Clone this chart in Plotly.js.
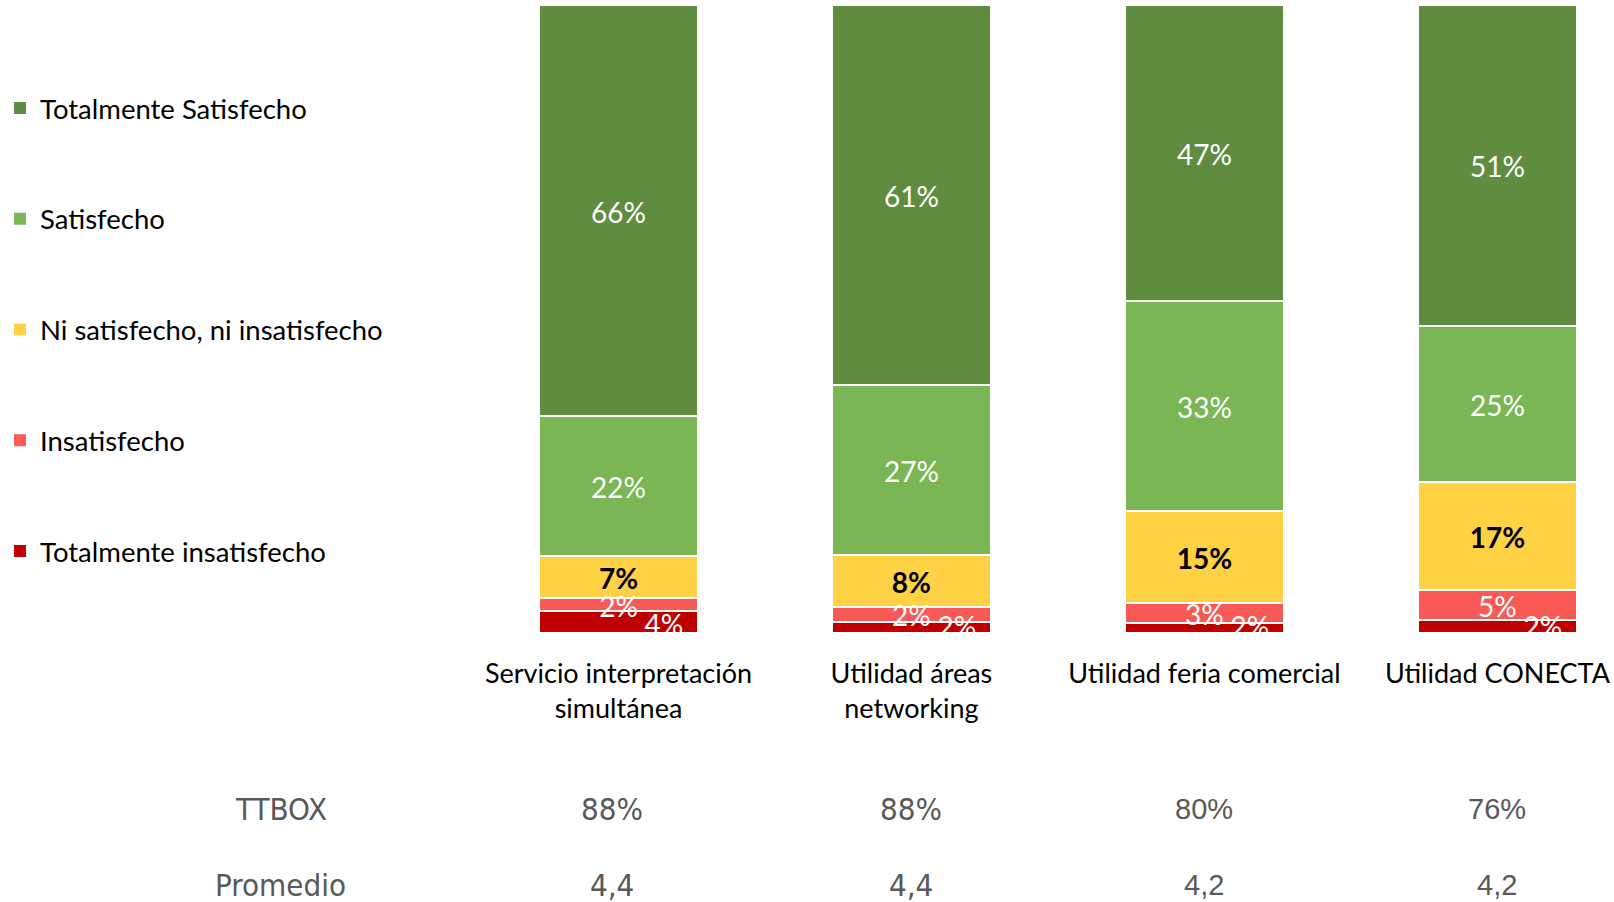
<!DOCTYPE html>
<html>
<head>
<meta charset="utf-8">
<script src="https://cdn.plot.ly/plotly-3.0.1.min.js"></script>
<style>html,body{margin:0;padding:0;background:#fff;}#chart{width:1614px;height:902px;}</style>
</head>
<body>
<div id="chart"></div>
<script>
// ---- data ----
var categories = ["Servicio interpretación<br>simultánea", "Utilidad áreas<br>networking", "Utilidad feria comercial", "Utilidad CONECTA"];
var seriesNames = ["Totalmente insatisfecho", "Insatisfecho", "Ni satisfecho, ni insatisfecho", "Satisfecho", "Totalmente Satisfecho"];
var totInsatisfecho = [3.5, 1.8, 1.6, 2.1];
var insatisfecho    = [2.0, 2.4, 3.1, 4.8];
var neutro          = [6.7, 8.2, 14.8, 17.2];
var satisfecho      = [22.3, 27.1, 33.3, 24.8];
var totSatisfecho   = [65.5, 60.5, 47.2, 51.1];
var ttboxValues = ["88%", "88%", "80%", "76%"];
var promedioValues = ["4,4", "4,4", "4,2", "4,2"];

// ---- style ----
var colors = ["#C00000", "#FA5A55", "#FFD145", "#7AB653", "#5F8C3F"];
var labelColors = ["#ffffff", "#ffffff", "#000000", "#ffffff", "#ffffff"];
var labelBold = [false, false, true, false, false];
var labelXOffset = [0.155, 0, 0, 0, 0];
var labelFrac = [0.25, 0.5, 0.5, 0.5, 0.5];
var labelNudge = [0, -0.8, -0.8, -0.8, -0.8];
var FONT = "Lato, 'Noto Sans', sans-serif";
var NARROW = "'Liberation Sans Narrow', 'Arial Narrow', 'DejaVu Sans Condensed', sans-serif";
var REG = "'Liberation Sans', Arial, sans-serif";

var series = [totInsatisfecho, insatisfecho, neutro, satisfecho, totSatisfecho];
var xIdx = categories.map(function(_, i){ return i; });

var traces = [];
// legend entries (top to bottom)
for (var s = series.length - 1; s >= 0; s--) {
  traces.push({
    type: 'bar', name: seriesNames[s], x: [null], y: [null],
    legendgroup: 'g' + s, showlegend: true,
    marker: {color: colors[s]}, hoverinfo: 'skip'
  });
}
series.forEach(function(vals, s){
  traces.push({
    type: 'bar', name: seriesNames[s], x: xIdx, y: vals,
    width: 0.54, legendgroup: 'g' + s, showlegend: false,
    marker: {color: colors[s], line: {color: '#ffffff', width: 2}},
    hoverinfo: 'skip'
  });
});
// labels
var cum = xIdx.map(function(){ return 0; });
series.forEach(function(vals, s){
  var lx = [], ly = [], lt = [];
  vals.forEach(function(v, i){
    lx.push(i + labelXOffset[s]);
    ly.push(cum[i] + v * labelFrac[s] + labelNudge[s]);
    var t = Math.round(v) + '%';
    lt.push(labelBold[s] ? '<b>' + t + '</b>' : t);
    cum[i] += v;
  });
  traces.push({
    type: 'scatter', mode: 'text', x: lx, y: ly, text: lt,
    textposition: 'middle center', cliponaxis: true, showlegend: false, hoverinfo: 'skip',
    textfont: {family: FONT, size: 28, color: labelColors[s]}
  });
});

var annotations = [];
var rowY = [-0.280, -0.401];
annotations.push({xref: 'paper', yref: 'paper', x: -0.1675, y: rowY[0], text: 'TTBOX', showarrow: false,
  font: {family: NARROW, size: 31, color: '#595959'}, xanchor: 'center', yanchor: 'middle'});
annotations.push({xref: 'paper', yref: 'paper', x: -0.168, y: rowY[1], text: 'Promedio', showarrow: false,
  font: {family: NARROW, size: 31, color: '#595959'}, xanchor: 'center', yanchor: 'middle'});
ttboxValues.forEach(function(t, i){
  annotations.push({xref: 'x', yref: 'paper', x: i, y: rowY[0], text: t, showarrow: false, xshift: i === 0 ? -6 : 0,
    font: {family: i < 2 ? NARROW : REG, size: i < 2 ? 31 : 29, color: '#595959'}, xanchor: 'center', yanchor: 'middle'});
});
promedioValues.forEach(function(t, i){
  annotations.push({xref: 'x', yref: 'paper', x: i, y: rowY[1], text: t, showarrow: false, xshift: i === 0 ? -6 : 0,
    font: {family: i < 2 ? NARROW : REG, size: i < 2 ? 31 : 29, color: '#595959'}, xanchor: 'center', yanchor: 'middle'});
});

var layout = {
  width: 1614, height: 902,
  margin: {l: 472, r: 0, t: 5, b: 269},
  paper_bgcolor: '#ffffff', plot_bgcolor: '#ffffff',
  barmode: 'stack', bargap: 0.46,
  font: {family: FONT, size: 28, color: '#000000'},
  xaxis: {range: [-0.5, 3.398], tickvals: xIdx, ticktext: categories, showgrid: false, zeroline: false,
    showline: false, ticks: '', ticklabelstandoff: 22,
    tickfont: {family: FONT, size: 27, color: '#000000'}, fixedrange: true},
  yaxis: {range: [0, 100], visible: false, fixedrange: true},
  showlegend: true,
  legend: {x: -0.4133, xanchor: 'left', y: 0.875, yanchor: 'top', traceorder: 'grouped',
    tracegroupgap: 72, font: {family: FONT, size: 27.5, color: '#000000'}, bgcolor: 'rgba(0,0,0,0)'},
  annotations: annotations
};
Plotly.newPlot('chart', traces, layout, {displayModeBar: false, staticPlot: true});
</script>
</body>
</html>
